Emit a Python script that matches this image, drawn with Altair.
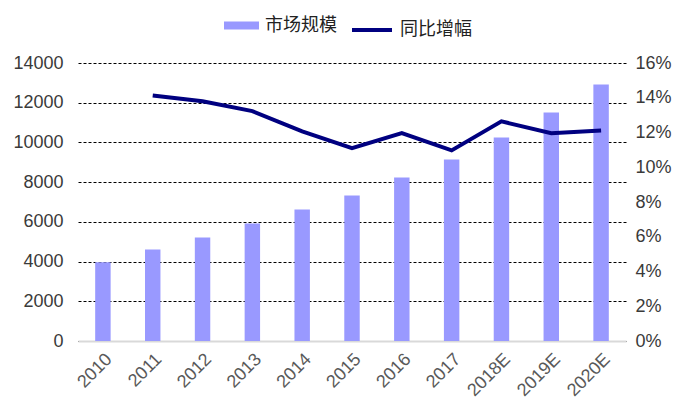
import altair as alt
import pandas as pd

years = ["2010", "2011", "2012", "2013", "2014", "2015", "2016", "2017", "2018E", "2019E", "2020E"]
market = [3960, 4610, 5210, 5920, 6620, 7330, 8240, 9140, 10250, 11510, 12920]
growth = [None, 14.13, 13.80, 13.23, 12.06, 11.10, 11.96, 10.97, 12.64, 11.96, 12.12]

df = pd.DataFrame({
    "year": years,
    "market": market,
    "growth": [g / 100 if g is not None else None for g in growth],
    "s1": ["市场规模"] * len(years),
    "s2": ["同比增幅"] * len(years),
})

FONT = "Liberation Sans"
CJK = "Noto Sans CJK SC"

x = alt.X("year:N", sort=years, title=None,
          scale=alt.Scale(paddingInner=0.69, paddingOuter=0.345),
          axis=alt.Axis(labelAngle=-45, labelFont=FONT, labelFontSize=18,
                        labelColor="#595959", ticks=False, domainColor="#d9d9d9",
                        domainWidth=2, labelPadding=9))

bars = alt.Chart(df).mark_bar(color="#9999ff").encode(
    x=x,
    y=alt.Y("market:Q", title=None,
            scale=alt.Scale(domain=[0, 14000], nice=False),
            axis=alt.Axis(values=[0, 2000, 4000, 6000, 8000, 10000, 12000, 14000],
                          format="d",
                          labelFont=FONT, labelFontSize=18, labelColor="#3a3a3a",
                          ticks=False, domain=False, labelPadding=15,
                          grid=True, gridColor="#000000", gridDash=[3, 2],
                          gridWidth=1)),
    fill=alt.Fill("s1:N", title=None,
                  scale=alt.Scale(domain=["市场规模"], range=["#9999ff"]),
                  legend=alt.Legend(orient="none", legendX=146, legendY=-55,
                                    symbolType="M-1,-0.23H1V0.23H-1Z",
                                    symbolSize=1225, symbolStrokeWidth=0,
                                    labelFont=CJK, labelFontSize=18,
                                    labelColor="#222222", labelOffset=6)),
)

line = alt.Chart(df).mark_line(color="#000080", strokeWidth=4).encode(
    x=x,
    y=alt.Y("growth:Q", title=None,
            scale=alt.Scale(domain=[0, 0.16], nice=False),
            axis=alt.Axis(orient="right", format=".0%",
                          values=[0, 0.02, 0.04, 0.06, 0.08, 0.10, 0.12, 0.14, 0.16],
                          labelFont=FONT, labelFontSize=18, labelColor="#3a3a3a",
                          ticks=False, domain=False, labelPadding=9, grid=False)),
    stroke=alt.Stroke("s2:N", title=None,
                      scale=alt.Scale(domain=["同比增幅"], range=["#000080"]),
                      legend=alt.Legend(orient="none", legendX=272, legendY=-55,
                                        symbolType="stroke", symbolSize=1600,
                                        symbolStrokeWidth=4,
                                        labelFont=CJK, labelFontSize=18,
                                        labelColor="#222222", labelOffset=6)),
)

chart = alt.layer(bars, line).resolve_scale(
    y="independent", fill="independent", stroke="independent"
).properties(
    width=548, height=278,
    autosize=alt.AutoSizeParams(type="none"),
    padding={"left": 78, "top": 63, "right": 58, "bottom": 74},
).configure_view(stroke=None).configure_axisX(grid=False)

chart.save("out.html", embed_options={"renderer": "svg", "actions": False})
